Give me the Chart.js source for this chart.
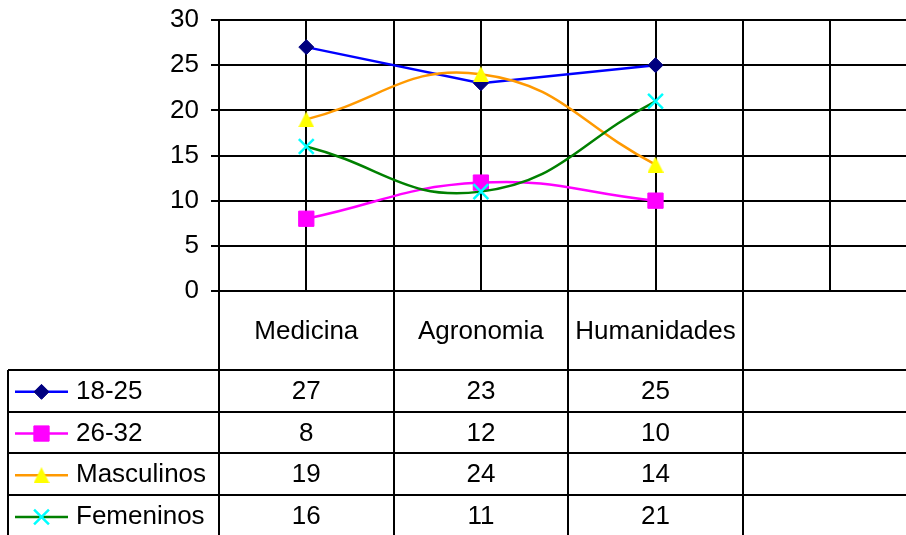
<!DOCTYPE html>
<html>
<head>
<meta charset="utf-8">
<script src="https://cdn.jsdelivr.net/npm/chart.js@4/dist/chart.umd.min.js"></script>
<style>
  html, body { margin: 0; padding: 0; background: #fff; overflow: hidden; }
  #wrap { width: 906px; height: 535px; }
</style>
</head>
<body>
<div id="wrap"><canvas id="c" width="906" height="535"></canvas></div>
<script>
// Data
const categories = ['Medicina', 'Agronomia', 'Humanidades'];
const yTicks = [0, 5, 10, 15, 20, 25, 30];
const seriesNames = ['18-25', '26-32', 'Masculinos', 'Femeninos'];
const edad1825 = [27, 23, 25];
const edad2632 = [8, 12, 10];
const masculinos = [19, 24, 14];
const femeninos = [16, 11, 21];

const FONT_FAMILY = '"Liberation Sans", Arial, sans-serif';
const FONT_SIZE = 26;
const FONT = FONT_SIZE + 'px ' + FONT_FAMILY;
const tableCols = 4;          // three categories plus an empty column
const headerBottom = 370;     // bottom of the category-name row
const rowHeight = 41.7;
const tableLeft = 8;

function pts(vals) {
  return vals.map((v, i) => ({ x: i, y: v }));
}

// Box-centred triangle marker (apex up, base as wide as it is tall)
function triangleMarker(color, size) {
  const cv = document.createElement('canvas');
  cv.width = size; cv.height = size;
  const c = cv.getContext('2d');
  c.fillStyle = color;
  c.beginPath();
  c.moveTo(size / 2, 0);
  c.lineTo(size, size);
  c.lineTo(0, size);
  c.closePath();
  c.fill();
  return cv;
}

const triMark = triangleMarker('#FFFF00', 16);

const datasets = [
  {
    label: seriesNames[0], data: pts(edad1825), order: 4,
    borderColor: '#0000FF', borderWidth: 2.5, tension: 0,
    pointStyle: 'rectRot', pointRadius: 7.5,
    pointBackgroundColor: '#000080', pointBorderColor: '#000080', pointBorderWidth: 1
  },
  {
    label: seriesNames[1], data: pts(edad2632), order: 3,
    borderColor: '#FF00FF', borderWidth: 2.5, tension: 0.45,
    pointStyle: 'rect', pointRadius: 10.8,
    pointBackgroundColor: '#FF00FF', pointBorderColor: '#FF00FF', pointBorderWidth: 1
  },
  {
    label: seriesNames[2], data: pts(masculinos), order: 2,
    borderColor: '#FF9900', borderWidth: 2.5, tension: 0.45,
    pointStyle: triMark, pointRadius: 8,
    pointBackgroundColor: '#FFFF00', pointBorderColor: '#FFFF00', pointBorderWidth: 0
  },
  {
    label: seriesNames[3], data: pts(femeninos), order: 1,
    borderColor: '#008000', borderWidth: 2.5, tension: 0.45,
    pointStyle: 'crossRot', pointRadius: 10.5,
    pointBackgroundColor: '#00FFFF', pointBorderColor: '#00FFFF', pointBorderWidth: 2.5
  }
];

const seriesValues = [edad1825, edad2632, masculinos, femeninos];

// Draws the data table beneath the plot: category row, legend keys and values
const dataTable = {
  id: 'dataTable',
  afterDraw(chart) {
    const ctx = chart.ctx;
    const xs = chart.scales.x;
    const area = chart.chartArea;
    const right = chart.width;
    const bottom = chart.height;
    ctx.save();
    ctx.strokeStyle = '#000';
    ctx.lineWidth = 2;

    // column separators
    ctx.beginPath();
    for (let c = 0; c < tableCols; c++) {
      const px = Math.round(xs.getPixelForValue(c - 0.5));
      ctx.moveTo(px, area.bottom);
      ctx.lineTo(px, bottom);
    }
    ctx.moveTo(tableLeft, headerBottom);
    ctx.lineTo(tableLeft, bottom);
    // row separators
    for (let r = 0; r < seriesNames.length; r++) {
      const py = Math.round(headerBottom + r * rowHeight);
      ctx.moveTo(tableLeft, py);
      ctx.lineTo(right, py);
    }
    ctx.stroke();

    ctx.fillStyle = '#000';
    ctx.font = FONT;
    ctx.textAlign = 'center';
    ctx.textBaseline = 'middle';
    const headerMid = (area.bottom + headerBottom) / 2 + 1;
    categories.forEach((cat, i) => {
      ctx.fillText(cat, xs.getPixelForValue(i), headerMid);
    });

    seriesNames.forEach((name, r) => {
      const cy = headerBottom + r * rowHeight + rowHeight / 2 + 1;
      seriesValues[r].forEach((v, i) => {
        ctx.fillStyle = '#000';
        ctx.textAlign = 'center';
        ctx.fillText(String(v), xs.getPixelForValue(i), cy);
      });

      // legend key
      const ds = datasets[r];
      ctx.beginPath();
      ctx.strokeStyle = ds.borderColor;
      ctx.lineWidth = 2.5;
      ctx.moveTo(15, cy);
      ctx.lineTo(68, cy);
      ctx.stroke();
      ctx.fillStyle = ds.pointBackgroundColor;
      ctx.strokeStyle = ds.pointBorderColor;
      ctx.lineWidth = ds.pointBorderWidth;
      if (Chart.helpers && Chart.helpers.drawPoint) {
        Chart.helpers.drawPoint(ctx, {
          pointStyle: ds.pointStyle, radius: ds.pointRadius,
          rotation: 0, borderWidth: ds.pointBorderWidth
        }, 41.5, cy);
      }

      ctx.fillStyle = '#000';
      ctx.textAlign = 'left';
      ctx.fillText(name, 76, cy);
    });
    ctx.restore();
  }
};

const plotLeft = 219;
const catWidth = 174.6;
const xMax = -0.5 + (906 - plotLeft) / catWidth;

new Chart(document.getElementById('c'), {
  type: 'line',
  data: { datasets },
  plugins: [dataTable],
  options: {
    responsive: false,
    devicePixelRatio: 1,
    animation: false,
    events: [],
    layout: { autoPadding: false, padding: { top: 20, right: 0, bottom: 0, left: 0 } },
    plugins: { legend: { display: false }, tooltip: { enabled: false } },
    scales: {
      x: {
        type: 'linear',
        min: -0.5,
        max: xMax,
        afterFit(scale) {
          scale.height = 244;
          scale.paddingLeft = 0; scale.paddingRight = 0;
          scale.paddingTop = 0; scale.paddingBottom = 0;
        },
        // vertical grid every half category
        afterBuildTicks(scale) {
          const t = [];
          for (let v = -0.5; v < xMax - 0.01; v += 0.5) t.push({ value: v });
          scale.ticks = t;
        },
        ticks: { display: false },
        grid: { color: '#000', lineWidth: 2, drawTicks: false },
        border: { display: true, color: '#000', width: 2 }
      },
      y: {
        type: 'linear',
        min: yTicks[0],
        max: yTicks[yTicks.length - 1],
        afterFit(scale) {
          scale.width = plotLeft;
          scale.paddingTop = 0; scale.paddingBottom = 0;
          scale.paddingLeft = 0; scale.paddingRight = 0;
        },
        afterBuildTicks(scale) { scale.ticks = yTicks.map(v => ({ value: v })); },
        ticks: {
          color: '#000',
          font: { family: FONT_FAMILY, size: FONT_SIZE },
          padding: 12
        },
        grid: { color: '#000', lineWidth: 2, tickLength: 8, tickColor: '#000' },
        border: { display: true, color: '#000', width: 2 }
      }
    }
  }
});
</script>
</body>
</html>
